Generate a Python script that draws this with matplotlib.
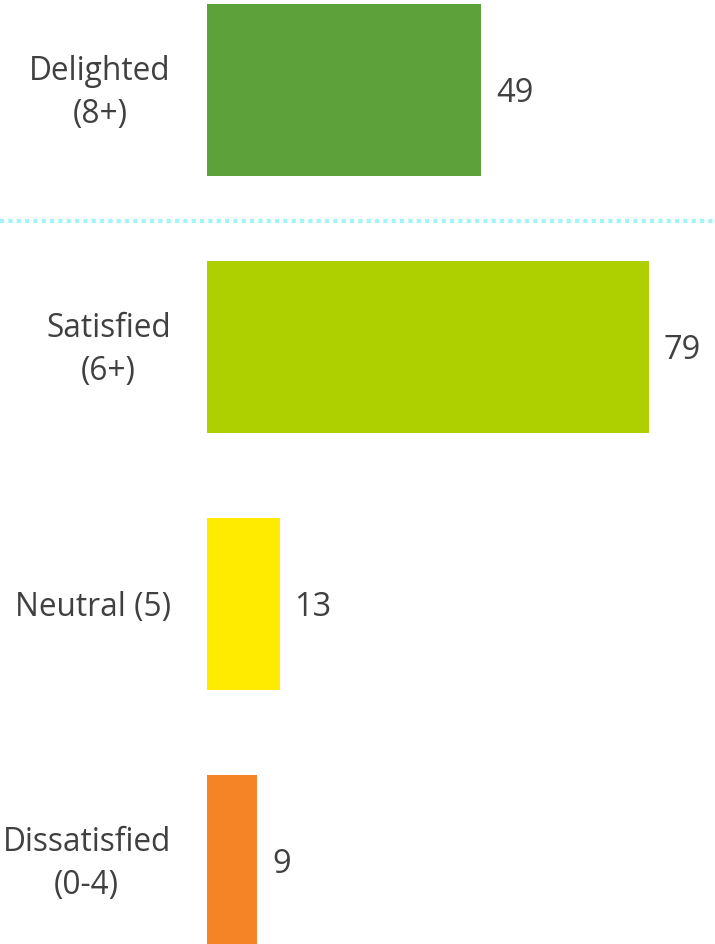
import matplotlib
matplotlib.use("Agg")
import matplotlib.pyplot as plt
import matplotlib.transforms as mtransforms
from matplotlib.lines import Line2D

categories = ["Delighted\n(8+)", "Satisfied\n(6+)", "Neutral (5)", "Dissatisfied\n(0-4)"]
values = [49, 79, 13, 9]
colors = ["#5DA13A", "#AFD000", "#FFEB00", "#F58426"]

plt.rcParams['font.family'] = ['Open Sans', 'DejaVu Sans']

W, H = 715, 944
fig = plt.figure(figsize=(W/100, H/100), dpi=100)
ax = fig.add_axes([207/W, 0, 1-207/W, 1])

ypos = list(range(len(values)))
ax.barh(ypos, values, height=0.669, color=colors)
ax.set_xlim(0, (W-207)/5.6)
ax.set_ylim(3.323, -0.350)

for y, v in zip(ypos, values):
    ax.annotate(str(v), (v, y), xytext=(10.5, -2.5), textcoords='offset points',
                ha='left', va='center', fontsize=23.5, color='#404040')

ax.set_yticks(ypos)
ax.set_yticklabels(categories, fontsize=22.8, color='#404040', multialignment='center',
                   linespacing=1.4, va='center')
ax.tick_params(axis='y', length=0, pad=26)
shift = mtransforms.ScaledTranslation(0, -2.5/72, fig.dpi_scale_trans)
for lbl in ax.get_yticklabels():
    lbl.set_transform(lbl.get_transform() + shift)
ax.set_xticks([])
for s in ax.spines.values():
    s.set_visible(False)

yline = 1 - 221/H
fig.add_artist(Line2D([0, 1], [yline, yline], transform=fig.transFigure,
                      color='#9FF5FA', linewidth=3, linestyle=(0, (1.0, 1.0)),
                      solid_capstyle='butt', dash_capstyle='butt'))

fig.savefig("out.png", dpi=100)
